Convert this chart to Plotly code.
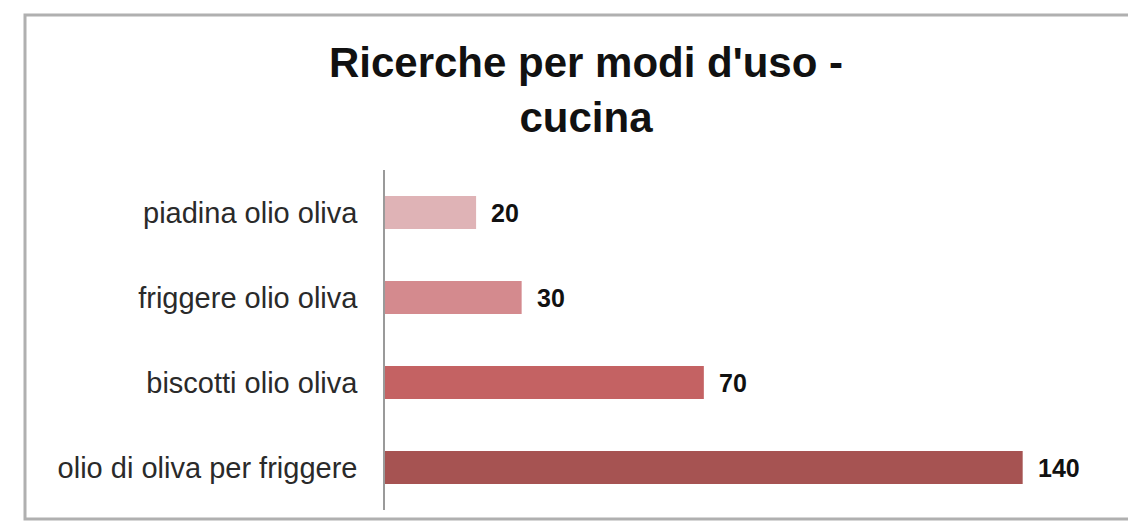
import plotly.graph_objects as go

# Search volumes by cooking use
categories = ["piadina olio oliva", "friggere olio oliva", "biscotti olio oliva", "olio di oliva per friggere"]
values = [20, 30, 70, 140]
bar_colors = ["#dfb3b6", "#d48a8e", "#c46263", "#a65352"]
title_text = "Ricerche per modi d'uso -<br>cucina"

W, H = 1128, 523
L, R, T, B = 385, 37, 170, 13
FONT = "Liberation Sans, Arial, Helvetica, sans-serif"

fig = go.Figure(
    go.Bar(
        x=values,
        y=categories,
        orientation="h",
        marker=dict(color=bar_colors, line=dict(width=0)),
        width=0.39,
        hoverinfo="x+y",
    )
)

# value labels just past the end of each bar
for cat, v in zip(categories, values):
    fig.add_annotation(
        x=v, y=cat, xref="x", yref="y",
        text=f"<b>{v}</b>", showarrow=False,
        xanchor="left", yanchor="middle", xshift=13,
        font=dict(family=FONT, size=25, color="#111111"),
    )

pw = W - L - R
ph = H - T - B

# outer frame around the chart card
fig.add_shape(
    type="rect", xref="paper", yref="paper",
    x0=(25 - L) / pw, x1=(1140 - L) / pw,
    y0=(H - B - 519) / ph, y1=(H - B - 15) / ph,
    line=dict(color="#b0b0b0", width=3), layer="below",
)

fig.update_layout(
    width=W, height=H,
    margin=dict(l=L, r=R, t=T, b=B),
    paper_bgcolor="white", plot_bgcolor="white",
    showlegend=False,
    title=dict(
        text=f"<b>{title_text}</b>",
        x=586 / W, xanchor="center",
        y=1 - 77 / H, yanchor="top",
        font=dict(family=FONT, size=42, color="#111111"),
    ),
    xaxis=dict(range=[0, 155], visible=False, showgrid=False, zeroline=False),
    yaxis=dict(
        categoryorder="array", categoryarray=categories, autorange="reversed",
        showline=True, linecolor="#9a9a9a", linewidth=1.5,
        ticks="", ticklabelstandoff=20,
        tickfont=dict(family=FONT, size=29, color="#2a2a2a"),
        showgrid=False,
    ),
)

fig.write_html("out.html")
